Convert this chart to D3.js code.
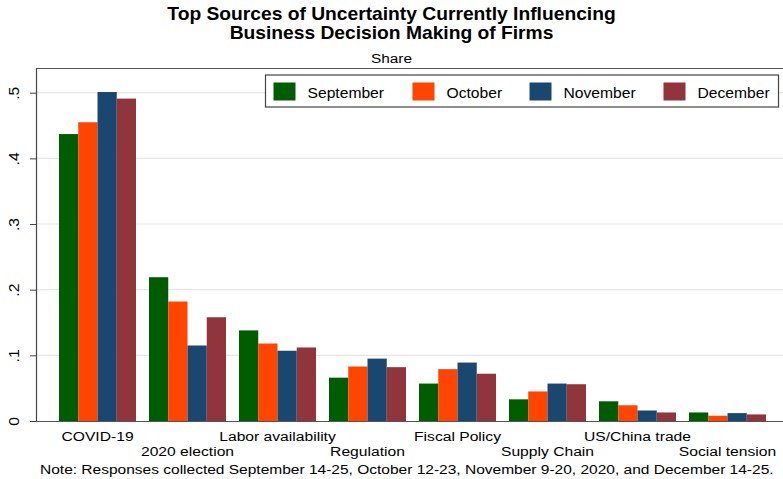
<!DOCTYPE html>
<html>
<head>
<meta charset="utf-8">
<script src="https://cdn.jsdelivr.net/npm/d3@7"></script>
<style>
  body { margin: 0; background: #fff; }
  text { font-family: "Liberation Sans", Arial, sans-serif; fill: #000; }
</style>
</head>
<body>
<div id="chart"></div>
<script>
const width = 783, height = 479;

// data
const categories = ["COVID-19", "2020 election", "Labor availability", "Regulation",
                    "Fiscal Policy", "Supply Chain", "US/China trade", "Social tension"];
const months = ["September", "October", "November", "December"];
const september = [0.437, 0.219, 0.138, 0.066, 0.057, 0.033, 0.030, 0.013];
const october   = [0.455, 0.182, 0.118, 0.083, 0.079, 0.045, 0.024, 0.008];
const november  = [0.501, 0.115, 0.107, 0.095, 0.089, 0.057, 0.016, 0.012];
const december  = [0.491, 0.158, 0.112, 0.082, 0.072, 0.056, 0.013, 0.010];
const yTicks = [0, 0.1, 0.2, 0.3, 0.4, 0.5];
const colors = ["#005c00", "#ff4500", "#1a476f", "#90353b"];

const series = [september, october, november, december];
const data = categories.map((c, i) => ({
  cat: c,
  vals: months.map((m, j) => ({ month: m, value: series[j][i] }))
}));

let svg = d3.select("#chart").append("svg")
    .attr("width", width)
    .attr("height", height);

// the reference text is a bit wider than it is tall, so stretch it horizontally
function label(sel, px, py, size, sx, anchor, txt) {
  return sel.append("text")
    .attr("transform", `translate(${px},${py}) scale(${sx},1)`)
    .attr("text-anchor", anchor)
    .attr("font-size", size)
    .text(txt);
}

// scales
let x = d3.scaleBand()
    .domain(categories)
    .range([52.5, 772.5])
    .paddingInner(13 / 90)
    .paddingOuter(13 / 180);

let xInner = d3.scaleBand()
    .domain(months)
    .range([0, x.bandwidth()]);

let y = d3.scaleLinear()
    .domain([0, 0.5])
    .range([421, 92.7]);

let color = d3.scaleOrdinal().domain(months).range(colors);

// gridlines
svg.append("g")
    .selectAll("line")
    .data(yTicks.slice(1))
    .enter().append("line")
    .attr("x1", 37).attr("x2", width)
    .attr("y1", d => y(d)).attr("y2", d => y(d))
    .attr("stroke", "#e6e6e6")
    .attr("stroke-width", 1.2);

// top border of plot region
svg.append("line")
    .attr("x1", 36).attr("x2", width)
    .attr("y1", 68.5).attr("y2", 68.5)
    .attr("stroke", "#555").attr("stroke-width", 1.2);

// bars
let groups = svg.append("g").selectAll("g")
    .data(data)
    .enter().append("g")
    .attr("transform", d => `translate(${x(d.cat)},0)`);

groups.selectAll("rect")
    .data(d => d.vals)
    .enter().append("rect")
    .attr("x", d => xInner(d.month))
    .attr("y", d => y(d.value))
    .attr("width", xInner.bandwidth())
    .attr("height", d => y(0) - y(d.value))
    .attr("fill", d => color(d.month));

// y axis (vertical labels, Stata style)
let yAxis = svg.append("g")
    .attr("transform", "translate(36,0)")
    .call(d3.axisLeft(y).tickValues(yTicks).tickSize(6)
      .tickFormat(d => d === 0 ? "0" : d3.format(".1f")(d).replace(/^0/, "")));
yAxis.select(".domain").remove();
yAxis.selectAll(".tick line").attr("stroke", "#444");
yAxis.selectAll(".tick text")
    .attr("font-size", 14)
    .attr("x", 0).attr("dy", 0)
    .attr("transform", "translate(-22,0) rotate(-90) scale(1.12,1)")
    .style("text-anchor", "middle")
    .attr("dominant-baseline", "central");
yAxis.style("font-family", null);

svg.append("line")
    .attr("x1", 36.5).attr("x2", 36.5)
    .attr("y1", 68).attr("y2", 421.5)
    .attr("stroke", "#444").attr("stroke-width", 1.2);

// x baseline
svg.append("line")
    .attr("x1", 36).attr("x2", width)
    .attr("y1", 421.5).attr("y2", 421.5)
    .attr("stroke", "#555").attr("stroke-width", 1.2);

// category labels, staggered
let catLabels = svg.append("g");
categories.forEach((c, i) => {
  label(catLabels, x(c) + x.bandwidth() / 2, i % 2 === 0 ? 441 : 456, 13.5, 1.16, "middle", c);
});

// legend
let legend = svg.append("g").attr("transform", "translate(265.5,75)");
legend.append("rect")
    .attr("width", 513).attr("height", 32)
    .attr("fill", "#fff").attr("stroke", "#444").attr("stroke-width", 1.2);
const legendX = [8, 147, 264, 398];
let items = legend.selectAll("g.item")
    .data(months)
    .enter().append("g")
    .attr("class", "item")
    .attr("transform", (d, i) => `translate(${legendX[i]},7.5)`);
items.append("rect")
    .attr("width", 22).attr("height", 18)
    .attr("fill", d => color(d));
items.each(function(d) {
  label(d3.select(this), 34, 15, 14.5, 1.08, "start", d);
});

// titles
label(svg, width / 2, 20, 17.5, 1.1, "middle", "Top Sources of Uncertainty Currently Influencing")
    .attr("font-weight", "bold");
label(svg, width / 2, 39, 17.5, 1.1, "middle", "Business Decision Making of Firms")
    .attr("font-weight", "bold");
label(svg, width / 2, 63, 13.5, 1.14, "middle", "Share");

// note
label(svg, 40, 474, 13.5, 1.15, "start",
  "Note: Responses collected September 14-25, October 12-23, November 9-20, 2020, and December 14-25.");
</script>
</body>
</html>
